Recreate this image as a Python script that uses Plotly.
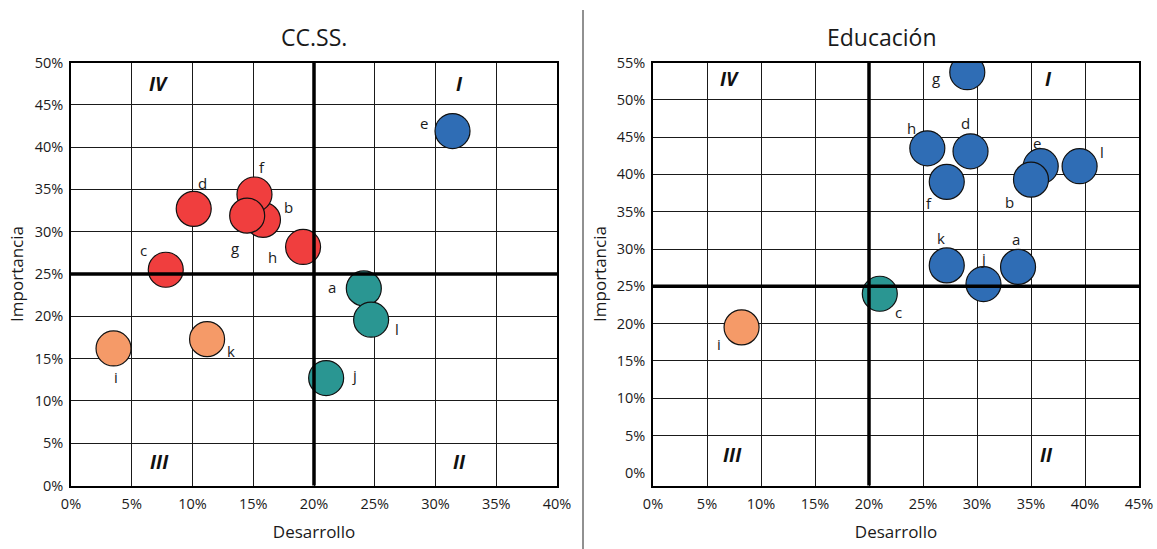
import plotly.graph_objects as go

# ---------------- data ----------------
labels = ["a", "b", "c", "d", "e", "f", "g", "h", "i", "j", "k", "l"]

ccss_x = [24.1, 15.8, 7.8, 10.1, 31.4, 15.1, 14.5, 19.1, 3.5, 21.0, 11.2, 24.7]
ccss_y = [23.3, 31.4, 25.5, 32.7, 41.9, 34.4, 31.9, 28.2, 16.2, 12.7, 17.3, 19.6]

edu_x = [33.8, 35.0, 21.0, 29.4, 35.9, 27.2, 29.1, 25.4, 8.2, 30.6, 27.2, 39.5]
edu_y = [27.6, 39.3, 24.0, 43.1, 41.1, 39.0, 53.7, 43.5, 19.5, 25.3, 27.8, 41.1]

ccss_xticks = [0, 5, 10, 15, 20, 25, 30, 35, 40]
ccss_yticks = [0, 5, 10, 15, 20, 25, 30, 35, 40, 45, 50]
edu_xticks = [0, 5, 10, 15, 20, 25, 30, 35, 40, 45]
edu_yticks = [0, 5, 10, 15, 20, 25, 30, 35, 40, 45, 50, 55]

x_cut = 20
y_cut = 25

titles = ["CC.SS.", "Educación"]
x_title = "Desarrollo"
y_title = "Importancia"

# ---------------- styles ----------------
FONT = "Open Sans"
TXT = "#1a1a1a"
quad_colors = {"I": "#2F6DB5", "II": "#2A9692", "III": "#F59A68", "IV": "#F03E3E"}

# label offsets (px: dx right, dy down) per point
ccss_off = {"a": (-32, -1), "b": (26, -13), "c": (-22, -20), "d": (9, -26),
            "e": (-29, -8), "f": (8, -27), "g": (-12, 32), "h": (-31, 10),
            "i": (2, 29), "j": (28, -3), "k": (24, 12), "l": (26, 9)}
edu_off = {"a": (-2, -28), "b": (-22, 22), "c": (19, 18), "d": (-5, -28),
           "e": (-4, -23), "f": (-18, 21), "g": (-31, 6), "h": (-16, -20),
           "i": (-23, 17), "j": (0, -26), "k": (-6, -27), "l": (22, -14)}
ccss_order = ["a", "b", "c", "d", "e", "f", "g", "h", "i", "j", "k", "l"]
edu_order = ["a", "c", "d", "e", "b", "f", "g", "h", "i", "j", "k", "l"]


def quadrant(x, y):
    if x >= x_cut and y >= y_cut:
        return "I"
    if x >= x_cut:
        return "II"
    if y >= y_cut:
        return "IV"
    return "III"


def pct(vals):
    return ["%d%%" % v for v in vals]


fig = go.Figure()
annotations = []
shapes = []

panels = [
    dict(xs=ccss_x, ys=ccss_y, xa="x", ya="y", off=ccss_off, order=ccss_order,
         quad_pos={"IV": (7.2, 47.5), "I": (32.0, 47.5), "III": (7.3, 2.8), "II": (32.0, 2.8)}),
    dict(xs=edu_x, ys=edu_y, xa="x2", ya="y2", off=edu_off, order=edu_order,
         quad_pos={"IV": (7.1, 52.8), "I": (36.6, 52.8), "III": (7.4, 2.4), "II": (36.4, 2.4)}),
]

for p in panels:
    idx = [labels.index(k) for k in p["order"]]
    xs = [p["xs"][i] for i in idx]
    ys = [p["ys"][i] for i in idx]
    cols = [quad_colors[quadrant(x, y)] for x, y in zip(xs, ys)]
    fig.add_trace(go.Scatter(
        x=xs, y=ys, mode="markers", xaxis=p["xa"], yaxis=p["ya"],
        marker=dict(size=35, color=cols, line=dict(color="#111111", width=1.2)),
        showlegend=False, hoverinfo="skip"))
    for lab, x, y in zip(labels, p["xs"], p["ys"]):
        dx, dy = p["off"][lab]
        annotations.append(dict(x=x, y=y, xref=p["xa"], yref=p["ya"], text=lab,
                                showarrow=False, xshift=dx, yshift=-dy,
                                font=dict(family=FONT, size=15, color=TXT)))
    for q, (qx, qy) in p["quad_pos"].items():
        annotations.append(dict(x=qx, y=qy, xref=p["xa"], yref=p["ya"],
                                text="<b><i>%s</i></b>" % q, showarrow=False,
                                font=dict(family=FONT, size=19, color="#111111")))
    shapes.append(dict(type="line", xref=p["xa"], yref=p["ya"] + " domain",
                       x0=x_cut, x1=x_cut, y0=0, y1=1,
                       line=dict(color="black", width=3.5)))
    shapes.append(dict(type="line", xref=p["xa"] + " domain", yref=p["ya"],
                       x0=0, x1=1, y0=y_cut, y1=y_cut,
                       line=dict(color="black", width=3.5)))

for t, cx in zip(titles, [314, 882]):
    annotations.append(dict(x=cx / 1157, y=1 - 37 / 549, xref="paper", yref="paper",
                            xanchor="center", yanchor="middle",
                            text=t, showarrow=False,
                            font=dict(family=FONT, size=23, color=TXT)))

shapes.append(dict(type="line", xref="paper", yref="paper",
                   x0=583 / 1157, x1=583 / 1157, y0=0, y1=1 - 10 / 549,
                   line=dict(color="#222222", width=1)))

tickfont = dict(family=FONT, size=14.5, color=TXT)
titlefont = dict(family=FONT, size=17, color=TXT)
common = dict(showline=True, mirror=True, linecolor="black", linewidth=1.5,
              ticks="", zeroline=False, tickfont=tickfont, automargin=False,
              showgrid=True, gridcolor="#1a1a1a", gridwidth=1.3, fixedrange=True,
              tickmode="array")

ydom = [1 - 485.5 / 549, 1 - 62.5 / 549]

fig.update_layout(
    width=1157, height=549,
    margin=dict(l=0, r=0, t=0, b=0),
    paper_bgcolor="white", plot_bgcolor="white",
    xaxis=dict(domain=[71 / 1157, 557 / 1157], range=[0, 40], tickvals=ccss_xticks,
               ticktext=pct(ccss_xticks), ticklabelstandoff=4,
               title=dict(text=x_title, font=titlefont, standoff=14), anchor="y", **common),
    yaxis=dict(domain=ydom, range=[0, 50], tickvals=ccss_yticks, ticktext=pct(ccss_yticks),
               ticklabelstandoff=3,
               title=dict(text=y_title, font=titlefont, standoff=7), anchor="x", **common),
    xaxis2=dict(domain=[653 / 1157, 1139 / 1157], range=[0, 45], tickvals=edu_xticks,
                ticktext=pct(edu_xticks), ticklabelstandoff=4,
                title=dict(text=x_title, font=titlefont, standoff=14), anchor="y2", **common),
    yaxis2=dict(domain=ydom, range=[-1.7, 55], tickvals=edu_yticks, ticktext=pct(edu_yticks),
                ticklabelstandoff=3,
                title=dict(text=y_title, font=titlefont, standoff=6), anchor="x2",
                **{**common, "showgrid": False},
                minor=dict(tickvals=edu_yticks[1:], showgrid=True,
                           gridcolor="#1a1a1a", gridwidth=1.3, ticks="")),
    annotations=annotations,
    shapes=shapes,
)

fig.write_html("out.html", config={"displayModeBar": False},
               post_script="document.body.style.margin='0';document.body.style.overflow='hidden';")
